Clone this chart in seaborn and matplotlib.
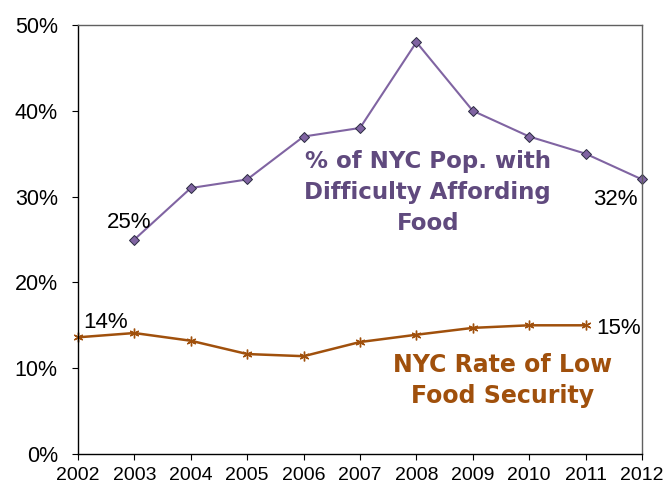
import matplotlib
matplotlib.use("Agg")
import matplotlib.pyplot as plt
import seaborn as sns
import pandas as pd
from matplotlib.ticker import FuncFormatter

years_difficulty = [2003, 2004, 2005, 2006, 2007, 2008, 2009, 2010, 2011, 2012]
pct_difficulty = [25, 31, 32, 37, 38, 48, 40, 37, 35, 32]
years_lowfood = [2002, 2003, 2004, 2005, 2006, 2007, 2008, 2009, 2010, 2011]
pct_lowfood = [13.6, 14.1, 13.2, 11.65, 11.4, 13.05, 13.9, 14.7, 15.0, 15.0]
x_ticks = list(range(2002, 2013))
y_ticks = [0, 10, 20, 30, 40, 50]
purple_label = ["% of NYC Pop. with", "Difficulty Affording", "Food"]
orange_label = ["NYC Rate of Low", "Food Security"]

sns.set_style("white")
plt.rcParams['font.family'] = ['Liberation Sans', 'DejaVu Sans']

fig = plt.figure(figsize=(6.66, 4.87), dpi=100)
ax = fig.add_axes([78 / 666, 33 / 487, 564 / 666, 429 / 487])

purple = "#8064A2"
purple_text = "#604A7E"
orange = "#A0500C"

df1 = pd.DataFrame({"year": years_difficulty, "pct": pct_difficulty})
df2 = pd.DataFrame({"year": years_lowfood, "pct": pct_lowfood})

sns.lineplot(data=df1, x="year", y="pct", ax=ax, color=purple, lw=1.5,
             marker="D", markersize=5, markerfacecolor=purple,
             markeredgecolor="#2a2a40", markeredgewidth=0.7, clip_on=False)
sns.lineplot(data=df2, x="year", y="pct", ax=ax, color=orange, lw=1.8,
             marker=(6, 2, 0), markersize=7, markeredgecolor=orange,
             markeredgewidth=1.0, clip_on=False)

ax.set_xlim(2002, 2012)
ax.set_ylim(0, 50)
ax.set_xticks(x_ticks)
ax.set_yticks(y_ticks)
ax.yaxis.set_major_formatter(FuncFormatter(lambda v, p: f"{int(v)}%"))
ax.tick_params(axis='y', labelsize=15.5, length=4.5, width=0.8, direction='out',
               left=True, pad=10, colors="black")
ax.tick_params(axis='x', labelsize=14, length=4, width=0.8, direction='out',
               bottom=True, pad=5, colors="black")
ax.set_xlabel("")
ax.set_ylabel("")

for s in ["left", "bottom"]:
    ax.spines[s].set_color("black")
    ax.spines[s].set_linewidth(1.0)
for s in ["top", "right"]:
    ax.spines[s].set_color("#606060")
    ax.spines[s].set_linewidth(1.0)

ann = dict(fontsize=16, ha="center", va="baseline", color="black")
ax.text(2002.90, 26.34, "25%", **ann)
ax.text(2011.53, 29.02, "32%", **ann)
ax.text(2002.49, 14.69, "14%", **ann)
ax.text(2011.59, 13.99, "15%", **ann)

for line, yb in zip(purple_label, [33.39, 29.72, 26.05]):
    ax.text(2008.20, yb, line, fontsize=16.5, fontweight="bold", family="DejaVu Sans",
            color=purple_text, ha="center", va="baseline")
for line, yb in zip(orange_label, [9.56, 6.00]):
    ax.text(2009.53, yb, line, fontsize=17, fontweight="bold", family="DejaVu Sans",
            color=orange, ha="center", va="baseline")

fig.savefig("out.png", dpi=100)
